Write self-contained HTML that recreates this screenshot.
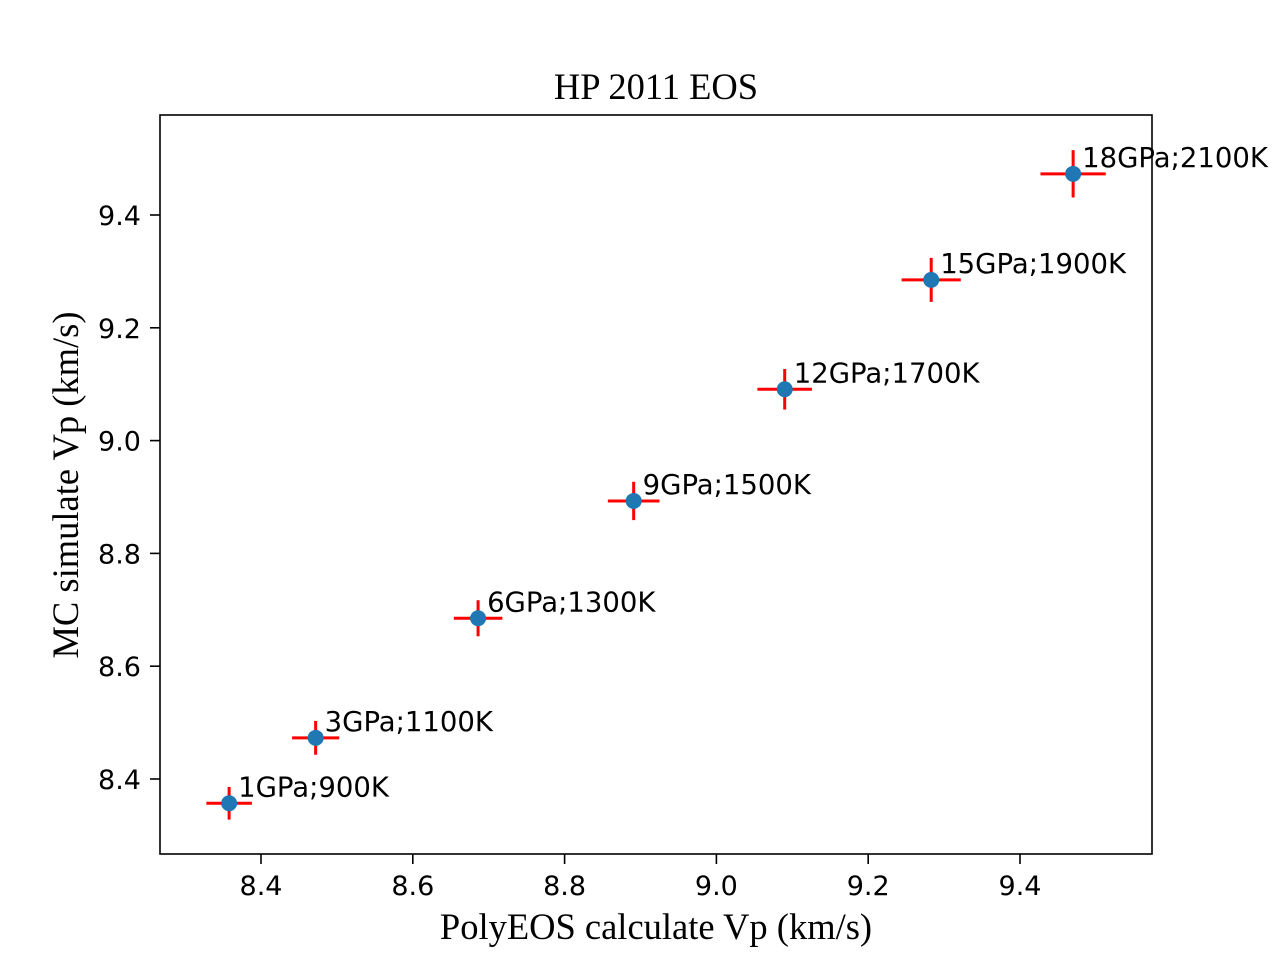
<!DOCTYPE html>
<html><head><meta charset="utf-8"><style>
body{margin:0;background:#fff}
svg{display:block}
.tk{font-family:"DejaVu Sans","Liberation Sans",sans-serif;font-size:27px;fill:#000}
.ser{font-family:"Liberation Serif",serif;font-size:36.5px;fill:#000}
.an{font-family:"DejaVu Sans","Liberation Sans",sans-serif;font-size:27.5px;fill:#000}
</style></head><body>
<svg id="chart" width="1280" height="960" xmlns="http://www.w3.org/2000/svg">
<rect width="1280" height="960" fill="#fff"/>
<text class="ser" x="656" y="99" text-anchor="middle">HP 2011 EOS</text>
<text class="ser" x="656" y="939" text-anchor="middle">PolyEOS calculate Vp (km/s)</text>
<text class="ser" transform="translate(78,485) rotate(-90)" text-anchor="middle">MC simulate Vp (km/s)</text>
<g id="marks"></g>
<rect x="160" y="115" width="992" height="739" fill="none" stroke="#000" stroke-width="1.6"/>
</svg>
<script>
const labels=["1GPa;900K","3GPa;1100K","6GPa;1300K","9GPa;1500K","12GPa;1700K","15GPa;1900K","18GPa;2100K"];
const xVals=[8.358,8.472,8.686,8.891,9.090,9.283,9.470];
const yVals=[8.357,8.473,8.685,8.893,9.091,9.285,9.473];
const xErr=[0.030,0.031,0.032,0.034,0.036,0.039,0.043];
const yErr=[0.029,0.030,0.032,0.034,0.036,0.039,0.042];
const xTicks=[8.4,8.6,8.8,9.0,9.2,9.4];
const yTicks=[8.4,8.6,8.8,9.0,9.2,9.4];
const X=v=>261+(v-8.4)*759;
const Y=v=>779-(v-8.4)*564;
const NS="http://www.w3.org/2000/svg";
const g=document.getElementById('marks');
function mk(t,a){const e=document.createElementNS(NS,t);for(const k in a)e.setAttribute(k,a[k]);g.appendChild(e);return e;}
xTicks.forEach(v=>{
 const l=mk('line',{x1:X(v),x2:X(v),y1:854,y2:864,stroke:'#000','stroke-width':1.6});
 
 
 const t=mk('text',{x:X(v),y:895,'text-anchor':'middle',class:'tk'});t.textContent=v.toFixed(1);
 
 
});
yTicks.forEach(v=>{
 const l=mk('line',{x1:150,x2:160,y1:Y(v),y2:Y(v),stroke:'#000','stroke-width':1.6});
 
 
 const t=mk('text',{x:141,y:Y(v)+10,'text-anchor':'end',class:'tk'});t.textContent=v.toFixed(1);
 
 
});
xVals.forEach((xv,i)=>{
 const yv=yVals[i];
 const h=mk('line',{x1:X(xv-xErr[i]),x2:X(xv+xErr[i]),y1:Y(yv),y2:Y(yv),stroke:'#ff0000','stroke-width':3});
 
 
 const v=mk('line',{x1:X(xv),x2:X(xv),y1:Y(yv-yErr[i]),y2:Y(yv+yErr[i]),stroke:'#ff0000','stroke-width':3});
 
 
 const c=mk('circle',{cx:X(xv),cy:Y(yv),r:8,fill:'#1f77b4'});
 
 
 const t=mk('text',{x:X(xv)+9,y:Y(yv)-7,class:'an'});t.textContent=labels[i];
 
 
});
</script>
</body></html>
